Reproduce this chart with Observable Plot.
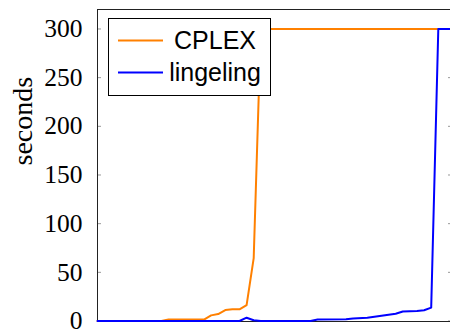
<!DOCTYPE html>
<html><head><meta charset="utf-8">
<script src="https://cdn.jsdelivr.net/npm/d3@7"></script>
<script src="https://cdn.jsdelivr.net/npm/@observablehq/plot@0.6"></script>
<style>body{margin:0;background:#fff;overflow:hidden}</style>
</head><body><div id="chart"></div>
<script>
const seriesNames = ["CPLEX", "lingeling"];
const seriesColors = ["#ff8000", "#0000ff"];
const cplexX = [0, 9, 10, 15, 16, 17, 18, 19, 20, 21, 22, 23, 50];
const cplexY = [0, 0, 1.5, 1.5, 5.8, 7.2, 11.3, 12, 12, 16.4, 64.5, 300, 300];
const lingelingX = [0, 20, 21, 22, 23, 30, 31, 35, 36, 38, 40, 42, 43, 45, 46, 47, 48, 50];
const lingelingY = [0, 0, 3.4, 0.8, 0, 0, 1.5, 1.8, 2.5, 3.4, 5.5, 7.5, 9.8, 10.2, 11, 13.7, 300, 300];
const yTicks = [0, 50, 100, 150, 200, 250, 300];
const yLabel = "seconds";

const rows = [
  ...cplexX.map((x, i) => ({series: seriesNames[0], x, y: cplexY[i]})),
  ...lingelingX.map((x, i) => ({series: seriesNames[1], x, y: lingelingY[i]}))
];

const plot = Plot.plot({
  width: 450, height: 333,
  marginTop: 9, marginBottom: 12, marginLeft: 97, marginRight: -2,
  style: {fontFamily: "'Liberation Serif', serif", fontSize: "25px", color: "#000", background: "#fff"},
  x: {domain: [0, 50], axis: null},
  y: {domain: [-0.5, 320], axis: null},
  color: {domain: seriesNames, range: seriesColors},
  marks: [
    Plot.tickY(yTicks, {y: d => d, stroke: "#999", insetRight: 351}),
    Plot.tickY(yTicks, {y: d => d, stroke: "#999", insetLeft: 351}),
    Plot.frame({stroke: "#222"}),
    Plot.axisY(yTicks, {tickSize: 0, tickPadding: 15, fontSize: 25.5, label: null}),
    Plot.text([yLabel], {text: d => d, frameAnchor: "left", dx: -74, rotate: -90, fontSize: 28, lineAnchor: "middle"}),
    Plot.line(rows, {x: "x", y: "y", z: "series", stroke: "series", strokeWidth: 2})
  ]
});

const svg = d3.select(plot);
const lg = svg.append("g").attr("font-family", "'Liberation Sans', sans-serif").attr("font-size", 25);
lg.append("rect").attr("x", 108.5).attr("y", 18.5).attr("width", 162).attr("height", 77)
  .attr("fill", "#fff").attr("stroke", "#000");
seriesNames.forEach((name, i) => {
  const cy = 40.5 + i * 32;
  lg.append("line").attr("x1", 118).attr("x2", 163).attr("y1", cy).attr("y2", cy)
    .attr("stroke", seriesColors[i]).attr("stroke-width", 2);
  lg.append("text").attr("x", 215).attr("y", cy).attr("dy", "0.34em")
    .attr("text-anchor", "middle").attr("fill", "#000").text(name);
});

document.getElementById("chart").appendChild(plot);
</script>
</body></html>
